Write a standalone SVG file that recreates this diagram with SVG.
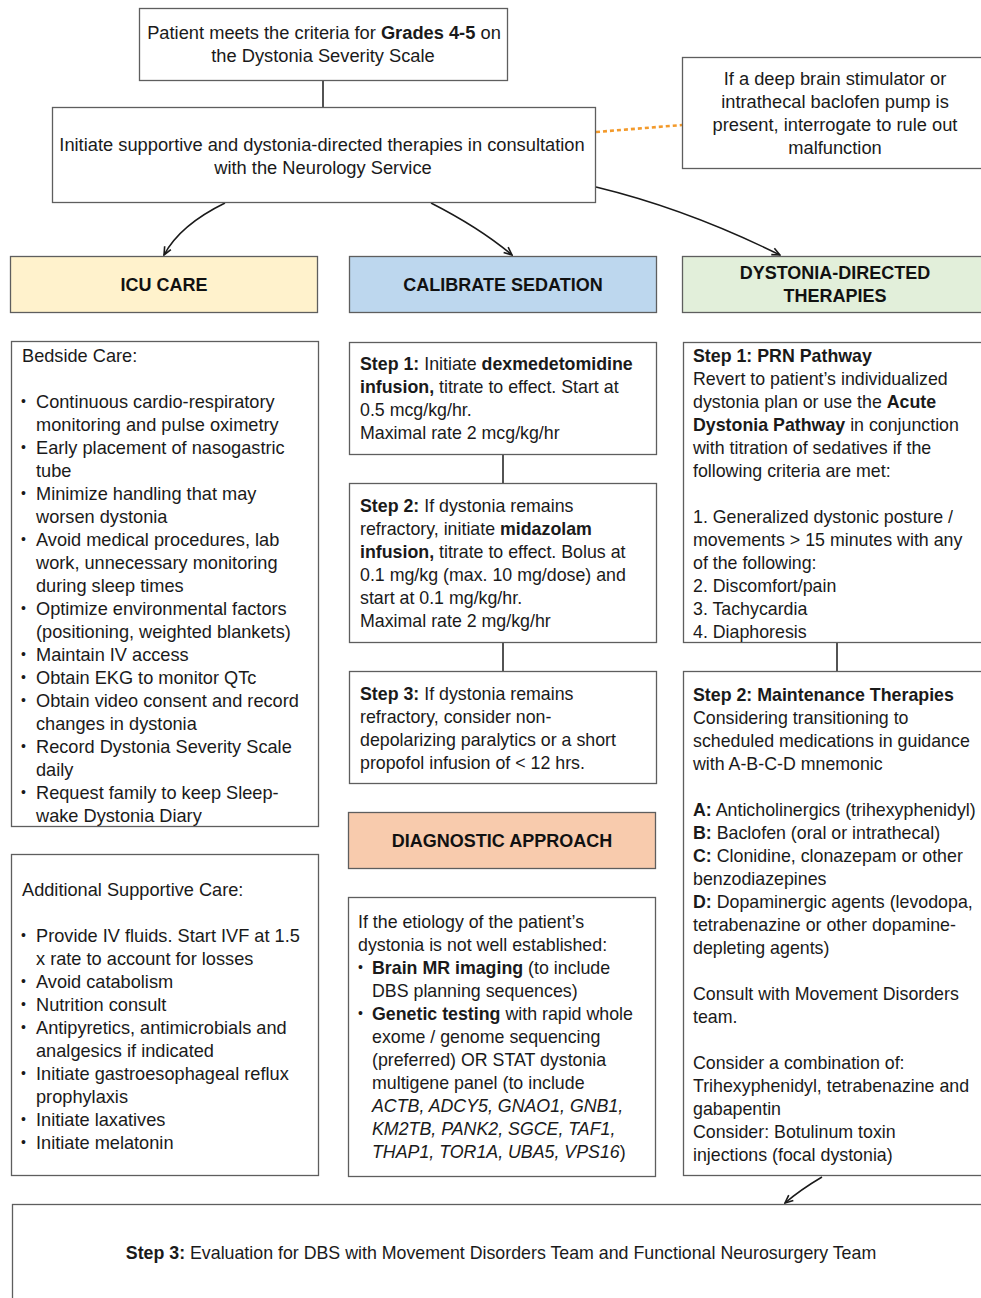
<svg xmlns="http://www.w3.org/2000/svg" width="981" height="1298" viewBox="0 0 981 1298">
<defs>
<style>
text{font-family:"Liberation Sans",Arial,Helvetica,sans-serif;font-size:17.8px;fill:#1a1a1a}
.c{text-anchor:middle}
.b{font-weight:bold}
.i{font-style:italic}
.L{font-size:18.2px}
.T{font-size:18.3px}
.d{font-size:14px}
.h{font-weight:bold;font-size:18px;text-anchor:middle;fill:#111}
.box{fill:#fff;stroke:#5e5e5e;stroke-width:1.3}
.y{fill:#fff2cc;stroke:#5e5e5e;stroke-width:1.3}
.bl{fill:#bdd7ee;stroke:#5e5e5e;stroke-width:1.3}
.g{fill:#e2efda;stroke:#5e5e5e;stroke-width:1.3}
.o{fill:#f8cbad;stroke:#5e5e5e;stroke-width:1.3}
.ln{fill:none;stroke:#1a1a1a;stroke-width:1.5}
.ar{fill:none;stroke:#1a1a1a;stroke-width:1.5;marker-end:url(#ah)}
.dash{fill:none;stroke:#f39a2b;stroke-width:2.6;stroke-dasharray:4 3}
</style>
<marker id="ah" viewBox="0 0 10 10" refX="9" refY="5" markerUnits="userSpaceOnUse" markerWidth="10" markerHeight="10" orient="auto">
<path d="M1,1.5 L9,5 L1,8.5" fill="none" stroke="#1a1a1a" stroke-width="1.6"/>
</marker>
</defs>

<g id="connectors">
<path class="ln" d="M323,80 L323,107"/>
<path class="dash" d="M596,132 L682,125"/>
<path class="ar" d="M225,203 Q180,225 164,255"/>
<path class="ar" d="M431,203 Q480,228 512,255"/>
<path class="ar" d="M596,187 Q687,209 780,255"/>
<path class="ln" d="M503,454 L503,483"/>
<path class="ln" d="M503,642 L503,671"/>
<path class="ln" d="M837,642 L837,671"/>
<path class="ar" d="M822,1177 Q800,1190 785,1203"/>
</g>

<g id="n-start">
<rect class="box" x="139.5" y="8.5" width="368" height="72"/>
<text class="c T" x="324" y="39">Patient meets the criteria for <tspan class="b">Grades 4-5</tspan> on</text>
<text class="c T" x="323" y="62">the Dystonia Severity Scale</text>
</g>

<g id="n-initiate">
<rect class="box" x="52.5" y="107.5" width="543" height="95"/>
<text class="c T" x="322" y="151">Initiate supportive and dystonia-directed therapies in consultation</text>
<text class="c T" x="323" y="174">with the Neurology Service</text>
</g>

<g id="n-device">
<rect class="box" x="682.5" y="57.5" width="310" height="111"/>
<text class="c T" x="835" y="85">If a deep brain stimulator or</text>
<text class="c T" x="835" y="108">intrathecal baclofen pump is</text>
<text class="c T" x="835" y="131">present, interrogate to rule out</text>
<text class="c T" x="835" y="154">malfunction</text>
</g>

<g id="h-icu">
<rect class="y" x="10.5" y="256.5" width="307" height="56"/>
<text class="h" x="164" y="291">ICU CARE</text>
</g>
<g id="h-sedation">
<rect class="bl" x="349.5" y="256.5" width="307" height="56"/>
<text class="h" x="503" y="291">CALIBRATE SEDATION</text>
</g>
<g id="h-dystonia">
<rect class="g" x="682.5" y="256.5" width="310" height="56"/>
<text class="h" x="835" y="279">DYSTONIA-DIRECTED</text>
<text class="h" x="835" y="302">THERAPIES</text>
</g>

<g id="n-bedside" class="L">
<rect class="box" x="11.5" y="341.5" width="307" height="485"/>
<text class="L" x="22" y="362">Bedside Care:</text>
<text class="d" x="21" y="406">•</text><text class="L" x="36" y="408">Continuous cardio-respiratory</text>
<text class="L" x="36" y="431">monitoring and pulse oximetry</text>
<text class="d" x="21" y="452">•</text><text class="L" x="36" y="454">Early placement of nasogastric</text>
<text class="L" x="36" y="477">tube</text>
<text class="d" x="21" y="498">•</text><text class="L" x="36" y="500">Minimize handling that may</text>
<text class="L" x="36" y="523">worsen dystonia</text>
<text class="d" x="21" y="544">•</text><text class="L" x="36" y="546">Avoid medical procedures, lab</text>
<text class="L" x="36" y="569">work, unnecessary monitoring</text>
<text class="L" x="36" y="592">during sleep times</text>
<text class="d" x="21" y="613">•</text><text class="L" x="36" y="615">Optimize environmental factors</text>
<text class="L" x="36" y="638">(positioning, weighted blankets)</text>
<text class="d" x="21" y="659">•</text><text class="L" x="36" y="661">Maintain IV access</text>
<text class="d" x="21" y="682">•</text><text class="L" x="36" y="684">Obtain EKG to monitor QTc</text>
<text class="d" x="21" y="705">•</text><text class="L" x="36" y="707">Obtain video consent and record</text>
<text class="L" x="36" y="730">changes in dystonia</text>
<text class="d" x="21" y="751">•</text><text class="L" x="36" y="753">Record Dystonia Severity Scale</text>
<text class="L" x="36" y="776">daily</text>
<text class="d" x="21" y="797">•</text><text class="L" x="36" y="799">Request family to keep Sleep-</text>
<text class="L" x="36" y="822">wake Dystonia Diary</text>
</g>

<g id="n-additional">
<rect class="box" x="11.5" y="854.5" width="307" height="321"/>
<text class="L" x="22" y="896">Additional Supportive Care:</text>
<text class="d" x="21" y="940">•</text><text class="L" x="36" y="942">Provide IV fluids. Start IVF at 1.5</text>
<text class="L" x="36" y="965">x rate to account for losses</text>
<text class="d" x="21" y="986">•</text><text class="L" x="36" y="988">Avoid catabolism</text>
<text class="d" x="21" y="1009">•</text><text class="L" x="36" y="1011">Nutrition consult</text>
<text class="d" x="21" y="1032">•</text><text class="L" x="36" y="1034">Antipyretics, antimicrobials and</text>
<text class="L" x="36" y="1057">analgesics if indicated</text>
<text class="d" x="21" y="1078">•</text><text class="L" x="36" y="1080">Initiate gastroesophageal reflux</text>
<text class="L" x="36" y="1103">prophylaxis</text>
<text class="d" x="21" y="1124">•</text><text class="L" x="36" y="1126">Initiate laxatives</text>
<text class="d" x="21" y="1147">•</text><text class="L" x="36" y="1149">Initiate melatonin</text>
</g>

<g id="n-sed1">
<rect class="box" x="349.5" y="342.5" width="307" height="112"/>
<text x="360" y="370"><tspan class="b">Step 1:</tspan> Initiate <tspan class="b">dexmedetomidine</tspan></text>
<text x="360" y="393"><tspan class="b">infusion,</tspan> titrate to effect. Start at</text>
<text x="360" y="416">0.5 mcg/kg/hr.</text>
<text x="360" y="439">Maximal rate 2 mcg/kg/hr</text>
</g>

<g id="n-sed2">
<rect class="box" x="349.5" y="483.5" width="307" height="159"/>
<text x="360" y="512"><tspan class="b">Step 2:</tspan> If dystonia remains</text>
<text x="360" y="535">refractory, initiate <tspan class="b">midazolam</tspan></text>
<text x="360" y="558"><tspan class="b">infusion,</tspan> titrate to effect. Bolus at</text>
<text x="360" y="581">0.1 mg/kg (max. 10 mg/dose) and</text>
<text x="360" y="604">start at 0.1 mg/kg/hr.</text>
<text x="360" y="627">Maximal rate 2 mg/kg/hr</text>
</g>

<g id="n-sed3">
<rect class="box" x="349.5" y="671.5" width="307" height="112"/>
<text x="360" y="700"><tspan class="b">Step 3:</tspan> If dystonia remains</text>
<text x="360" y="723">refractory, consider non-</text>
<text x="360" y="746">depolarizing paralytics or a short</text>
<text x="360" y="769">propofol infusion of &lt; 12 hrs.</text>
</g>

<g id="h-diagnostic">
<rect class="o" x="348.5" y="812.5" width="307" height="56"/>
<text class="h" x="502" y="847">DIAGNOSTIC APPROACH</text>
</g>

<g id="n-diagnostic">
<rect class="box" x="348.5" y="897.5" width="307" height="279"/>
<text x="358" y="928">If the etiology of the patient’s</text>
<text x="358" y="951">dystonia is not well established:</text>
<text class="d" x="358" y="972">•</text><text x="372" y="974"><tspan class="b">Brain MR imaging</tspan> (to include</text>
<text x="372" y="997">DBS planning sequences)</text>
<text class="d" x="358" y="1018">•</text><text x="372" y="1020"><tspan class="b">Genetic testing</tspan> with rapid whole</text>
<text x="372" y="1043">exome / genome sequencing</text>
<text x="372" y="1066">(preferred) OR STAT dystonia</text>
<text x="372" y="1089">multigene panel (to include</text>
<text x="372" y="1112" class="i">ACTB, ADCY5, GNAO1, GNB1,</text>
<text x="372" y="1135" class="i">KM2TB, PANK2, SGCE, TAF1,</text>
<text x="372" y="1158"><tspan class="i">THAP1, TOR1A, UBA5, VPS16</tspan>)</text>
</g>

<g id="n-dys1">
<rect class="box" x="683.5" y="342.5" width="310" height="300"/>
<text x="693" y="362" class="b">Step 1: PRN Pathway</text>
<text x="693" y="385">Revert to patient’s individualized</text>
<text x="693" y="408">dystonia plan or use the <tspan class="b">Acute</tspan></text>
<text x="693" y="431"><tspan class="b">Dystonia Pathway</tspan> in conjunction</text>
<text x="693" y="454">with titration of sedatives if the</text>
<text x="693" y="477">following criteria are met:</text>
<text x="693" y="523">1. Generalized dystonic posture /</text>
<text x="693" y="546">movements &gt; 15 minutes with any</text>
<text x="693" y="569">of the following:</text>
<text x="693" y="592">2. Discomfort/pain</text>
<text x="693" y="615">3. Tachycardia</text>
<text x="693" y="638">4. Diaphoresis</text>
</g>

<g id="n-dys2">
<rect class="box" x="683.5" y="671.5" width="310" height="504"/>
<text x="693" y="701" class="b">Step 2: Maintenance Therapies</text>
<text x="693" y="724">Considering transitioning to</text>
<text x="693" y="747">scheduled medications in guidance</text>
<text x="693" y="770">with A-B-C-D mnemonic</text>
<text x="693" y="816"><tspan class="b">A:</tspan> Anticholinergics (trihexyphenidyl)</text>
<text x="693" y="839"><tspan class="b">B:</tspan> Baclofen (oral or intrathecal)</text>
<text x="693" y="862"><tspan class="b">C:</tspan> Clonidine, clonazepam or other</text>
<text x="693" y="885">benzodiazepines</text>
<text x="693" y="908"><tspan class="b">D:</tspan> Dopaminergic agents (levodopa,</text>
<text x="693" y="931">tetrabenazine or other dopamine-</text>
<text x="693" y="954">depleting agents)</text>
<text x="693" y="1000">Consult with Movement Disorders</text>
<text x="693" y="1023">team.</text>
<text x="693" y="1069">Consider a combination of:</text>
<text x="693" y="1092">Trihexyphenidyl, tetrabenazine and</text>
<text x="693" y="1115">gabapentin</text>
<text x="693" y="1138">Consider: Botulinum toxin</text>
<text x="693" y="1161">injections (focal dystonia)</text>
</g>

<g id="n-dys3">
<rect class="box" x="12.5" y="1204.5" width="980" height="100"/>
<text class="c" x="501" y="1259"><tspan class="b">Step 3:</tspan> Evaluation for DBS with Movement Disorders Team and Functional Neurosurgery Team</text>
</g>
</svg>
